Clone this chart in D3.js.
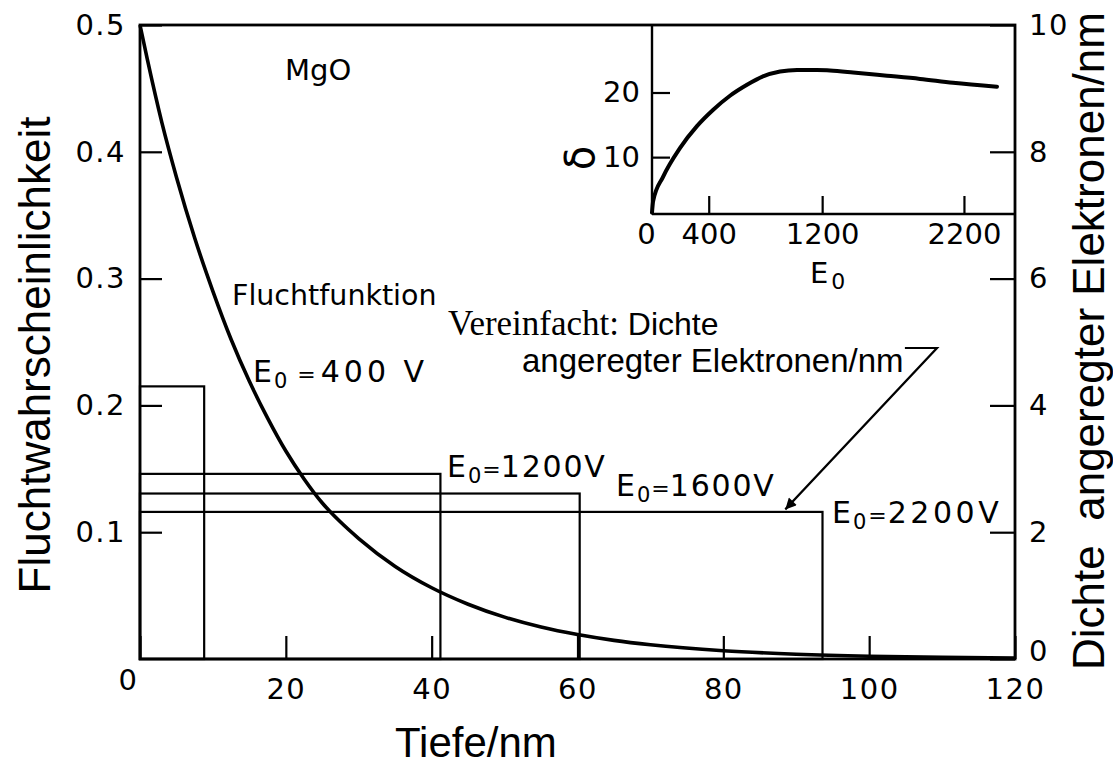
<!DOCTYPE html>
<html><head><meta charset="utf-8">
<script src="https://cdn.jsdelivr.net/npm/d3@7"></script>
<style>
body{margin:0;background:#fff}
svg{display:block}
text{fill:#000}
</style></head><body>
<svg id="c" width="1113" height="767"></svg>
<script>
// ---------- data ----------
const depthTicks = [0, 20, 40, 60, 80, 100, 120];
const escTicks = [0.1, 0.2, 0.3, 0.4, 0.5];
const densTicks = [0, 2, 4, 6, 8, 10];
const insetXTicks = [0, 400, 1200, 2200];
const insetYTicks = [10, 20];

// escape function (Fluchtfunktion), depth in nm vs escape probability
const curveDepth = [0, 1, 3, 5, 7.5, 10, 12.5, 15, 17.5, 20, 22.5, 25, 27.5, 30, 35, 40, 45, 50, 55, 60, 65, 70, 80, 90, 100, 110, 120];
const curveEsc   = [0.5, 0.473, 0.423, 0.38, 0.332, 0.29, 0.252, 0.219, 0.19, 0.164, 0.142, 0.123, 0.108, 0.095, 0.073, 0.0562, 0.0432, 0.033, 0.0252, 0.0193, 0.0147, 0.0112, 0.0065, 0.0038, 0.0022, 0.0013, 0.0008];

// simplified density of excited electrons per nm (boxes)
const boxEnergy  = [400, 1200, 1600, 2200];
const boxDepth   = [8.8, 41.2, 60.3, 93.6];
const boxDensity = [4.3, 2.92, 2.61, 2.32];

// inset: delta vs E0
const insetEnergy = [0, 8, 78, 197, 317, 430, 550, 670, 783, 903, 1023, 1164, 1255, 1418, 1657, 1890, 2123, 2433];
const insetDelta  = [1.4, 3.2, 6.95, 11.4, 14.8, 17.3, 19.5, 21.2, 22.5, 23.25, 23.5, 23.5, 23.4, 23.1, 22.6, 22.1, 21.5, 20.9];

// ---------- scales ----------
const svg = d3.select("#c");
const x  = d3.scaleLinear([0, 120], [140, 1015]);
const yL = d3.scaleLinear([0, 0.5], [659, 25]);
const yR = d3.scaleLinear([0, 10], [659, 25]);
const ix = d3.scaleLinear([0, 2560], [652, 1015]);
const iy = d3.scaleLinear([1.2, 30.6], [214, 24]);

const TICKFONT = "'DejaVu Sans', sans-serif";
const SANS = "'Liberation Sans', Arial, sans-serif";

function styleAxis(g, sw) {
  g.select(".domain").remove();
  g.selectAll(".tick line").attr("stroke", "#000").attr("stroke-width", sw);
  g.selectAll(".tick text").attr("font-family", TICKFONT).attr("font-size", 29)
    .attr("letter-spacing", 1.5).attr("fill", "#000");
}

// ---------- main axes ----------
const gL = svg.append("g").attr("transform", `translate(${x(0)},0)`)
  .call(d3.axisLeft(yL).tickValues(escTicks).tickSize(-22).tickPadding(14).tickFormat(d3.format(".1f")));
styleAxis(gL, 2.2);

const gR = svg.append("g").attr("transform", `translate(${x(120)},0)`)
  .call(d3.axisRight(yR).tickValues(densTicks).tickSize(-25).tickPadding(14).tickFormat(d3.format("d")));
styleAxis(gR, 2.2);
gR.selectAll(".tick").filter(d => d === 0).select("text").attr("y", -8);

const gB = svg.append("g").attr("transform", `translate(0,${yL(0)})`)
  .call(d3.axisBottom(x).tickValues(depthTicks).tickSize(-23).tickPadding(19).tickFormat(d3.format("d")));
styleAxis(gB, 2.2);
gB.selectAll(".tick").filter(d => d === 0).select("text").attr("x", -12).attr("y", 10);

// ---------- boxes ----------
svg.append("g").selectAll("rect").data(boxEnergy).join("rect")
  .attr("x", x(0))
  .attr("y", (d, i) => yR(boxDensity[i]))
  .attr("width", (d, i) => x(boxDepth[i]) - x(0))
  .attr("height", (d, i) => yR(0) - yR(boxDensity[i]))
  .attr("fill", "none").attr("stroke", "#000").attr("stroke-width", 2.2);

// ---------- escape curve ----------
const curvePts = curveDepth.map((d, i) => [d, curveEsc[i]]);
svg.append("path").datum(curvePts)
  .attr("d", d3.line().x(d => x(d[0])).y(d => yL(d[1])).curve(d3.curveMonotoneX))
  .attr("fill", "none").attr("stroke", "#000").attr("stroke-width", 3.6)
  .attr("stroke-linejoin", "round");

// ---------- inset ----------
const giL = svg.append("g").attr("transform", `translate(${ix(0)},0)`)
  .call(d3.axisLeft(iy).tickValues(insetYTicks).tickSize(-18).tickPadding(12).tickFormat(d3.format("d")));
styleAxis(giL, 2.2);
giL.selectAll(".tick text").attr("letter-spacing", 0);
const giB = svg.append("g").attr("transform", `translate(0,${iy(1.2)})`)
  .call(d3.axisBottom(ix).tickValues(insetXTicks).tickSize(-18).tickPadding(9).tickFormat(d3.format("d")));
styleAxis(giB, 2.2);
giB.selectAll(".tick text").attr("letter-spacing", 0);
giB.selectAll(".tick").filter(d => d === 0).select("line").remove();
giB.selectAll(".tick").filter(d => d === 0).select("text").attr("x", -6);

svg.append("line").attr("x1", ix(0)).attr("x2", ix(0)).attr("y1", iy(30.6)).attr("y2", iy(1.2))
  .attr("stroke", "#000").attr("stroke-width", 2.4);
svg.append("line").attr("x1", ix(0)).attr("x2", ix(2560)).attr("y1", iy(1.2)).attr("y2", iy(1.2))
  .attr("stroke", "#000").attr("stroke-width", 2.4);

const insetPts = insetEnergy.map((e, i) => [e, insetDelta[i]]);
svg.append("path").datum(insetPts)
  .attr("d", d3.line().x(d => ix(d[0])).y(d => iy(d[1])).curve(d3.curveMonotoneX))
  .attr("fill", "none").attr("stroke", "#000").attr("stroke-width", 4)
  .attr("stroke-linecap", "round");

// main frame (on top)
svg.append("rect").attr("x", x(0)).attr("y", yL(0.5))
  .attr("width", x(120) - x(0)).attr("height", yL(0) - yL(0.5))
  .attr("fill", "none").attr("stroke", "#000").attr("stroke-width", 2.8);

// inset labels
const iE = svg.append("text").attr("x", 810).attr("y", 283).attr("font-family", TICKFONT).attr("font-size", 29);
iE.append("tspan").text("E");
iE.append("tspan").attr("font-size", 22).attr("dx", 3).attr("dy", 6).text("0");
svg.append("text").attr("transform", "translate(580,158) rotate(-90)")
  .attr("text-anchor", "middle").attr("dominant-baseline", "central")
  .attr("font-family", TICKFONT).attr("font-size", 40).text("δ");

// ---------- axis titles ----------
svg.append("text").attr("transform", "translate(50,355) rotate(-90)")
  .attr("text-anchor", "middle").attr("font-family", SANS)
  .attr("font-size", 44).text("Fluchtwahrscheinlichkeit");
svg.append("text").attr("transform", "translate(1104,341) rotate(-90)")
  .attr("text-anchor", "middle").attr("font-family", SANS)
  .attr("font-size", 44).style("white-space", "pre").text("Dichte  angeregter Elektronen/nm");
svg.append("text").attr("x", 395).attr("y", 757)
  .attr("font-family", SANS).attr("font-size", 42).text("Tiefe/nm");

// ---------- annotations ----------
svg.append("text").attr("x", 285).attr("y", 80).attr("font-family", TICKFONT).attr("font-size", 29).text("MgO");
svg.append("text").attr("x", 232).attr("y", 305).attr("font-family", TICKFONT).attr("font-size", 28.5).text("Fluchtfunktion");

function eLabel(px, py, rest, ls, eqDx, restDx) {
  const t = svg.append("text").attr("x", px).attr("y", py).attr("font-family", TICKFONT).attr("font-size", 30);
  t.append("tspan").text("E");
  t.append("tspan").attr("font-size", 21).attr("dx", 2).attr("dy", 6).text("0");
  t.append("tspan").attr("font-size", 22).attr("dx", eqDx).attr("dy", -6).text("=");
  t.append("tspan").attr("dx", restDx).attr("letter-spacing", ls).text(rest);
}
eLabel(253, 382, "400 V", 4, 10, 5);
eLabel(447, 477, "1200V", 1.8, 1, 0);
eLabel(616, 496, "1600V", 1.8, 1, 0);
eLabel(832, 523, "2200V", 3.5, 2, 1);

const v = svg.append("text").attr("x", 448).attr("y", 335);
v.append("tspan").attr("font-family", "'Liberation Serif', 'Times New Roman', serif").attr("font-size", 35).style("white-space", "pre").text("Vereinfacht: ");
v.append("tspan").attr("font-family", SANS).attr("font-size", 32).text("Dichte");
svg.append("text").attr("x", 522).attr("y", 372)
  .attr("font-family", SANS).attr("font-size", 33)
  .text("angeregter Elektronen/nm");

// arrow (in data units: depth nm, density)
const arrowPts = [[104.9, 4.905], [109.3, 4.905], [88.5, 2.36]];
svg.append("defs").append("marker").attr("id", "ah").attr("viewBox", "0 0 10 10")
  .attr("refX", 10).attr("refY", 5).attr("markerWidth", 18).attr("markerHeight", 11)
  .attr("markerUnits", "userSpaceOnUse").attr("orient", "auto")
  .append("path").attr("d", "M0,0 L10,5 L0,10 Z").attr("fill", "#000");
svg.append("path").datum(arrowPts)
  .attr("d", d3.line().x(d => x(d[0])).y(d => yR(d[1])))
  .attr("fill", "none").attr("stroke", "#000").attr("stroke-width", 2.2)
  .attr("marker-end", "url(#ah)");
</script>
</body></html>
